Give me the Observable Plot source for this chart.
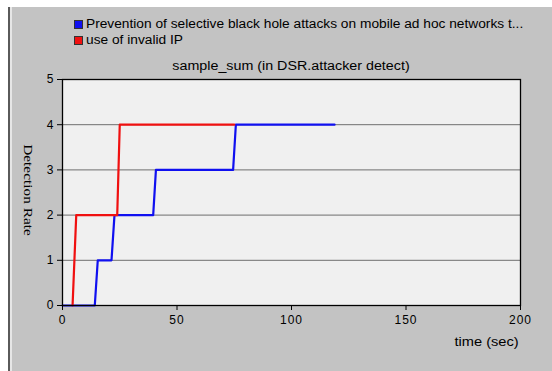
<!DOCTYPE html>
<html>
<head>
<meta charset="utf-8">
<script src="https://cdn.jsdelivr.net/npm/d3@7"></script>
<script src="https://cdn.jsdelivr.net/npm/@observablehq/plot@0.6"></script>
<style>
  html, body { margin: 0; padding: 0; background: #ffffff; }
  #wrap { position: relative; width: 552px; height: 371px; overflow: hidden; font-family: "Liberation Sans", Arial, sans-serif; }
  #panel { position: absolute; left: 8px; top: 7px; right: 0; bottom: 0; background: #c3c3c3;
           border-left: 2px solid #5a5a5a; box-shadow: inset 2px 0 0 #e6e6e6; }
  #chart { position: absolute; left: 0; top: 0; }
  .leg { position: absolute; font-size: 12px; color: #000; white-space: nowrap; line-height: 14px; transform: scaleX(1.144); transform-origin: 0 50%; }
  .sw { position: absolute; width: 7px; height: 7px; border: 1px solid #333; }
  #title { position: absolute; left: 62px; width: 458px; top: 59px; text-align: center; font-size: 12px; line-height: 14px; transform: scaleX(1.19); transform-origin: 50% 50%; }
  #ylab { position: absolute; left: 28px; top: 190px; transform: translate(-50%, -50%) rotate(90deg) scaleX(1.18); font-family: "Liberation Serif", "Times New Roman", serif; font-size: 13px; white-space: nowrap; }
  #xlab { position: absolute; right: 33px; top: 335px; font-size: 12px; line-height: 14px; transform: scaleX(1.22); transform-origin: 100% 50%; }
  #chart svg text { letter-spacing: 1px; }
</style>
</head>
<body>
<div id="wrap">
  <div id="panel"></div>
  <div id="chart"></div>
</div>
<script>
// Series names
const seriesNames = ["Prevention of selective black hole attacks on mobile ad hoc networks t...", "use of invalid IP"];
const seriesColors = ["#1010f0", "#f01010"];

// Blue series (Prevention ...)
const blueTime = [0, 14.1, 15.4, 21.4, 22.7, 39.6, 40.8, 74.5, 75.7, 118.8];
const blueRate = [0, 0, 1, 1, 2, 2, 3, 3, 4, 4];

// Red series (use of invalid IP)
const redTime = [4.4, 6.0, 23.9, 25.0, 75.0];
const redRate = [0, 2, 2, 4, 4];

// Axis ticks
const xTicks = [0, 50, 100, 150, 200];
const yTicks = [0, 1, 2, 3, 4, 5];
const yGrid = [1, 2, 3, 4];

const blue = blueTime.map((t, i) => ({time: t, rate: blueRate[i]}));
const red = redTime.map((t, i) => ({time: t, rate: redRate[i]}));

const chart = Plot.plot({
  width: 552,
  height: 371,
  marginLeft: 62,
  marginRight: 32,
  marginTop: 79,
  marginBottom: 66,
  style: {background: "transparent", fontFamily: "'Liberation Sans', Arial, sans-serif", fontSize: "12px", color: "#000"},
  x: {domain: [0, 200]},
  y: {domain: [0, 5]},
  marks: [
    Plot.frame({fill: "#f0f0f0", stroke: null}),
    Plot.gridY(yGrid, {stroke: "#6e6e6e", strokeOpacity: 1, strokeWidth: 1}),
    Plot.line(blue, {x: "time", y: "rate", stroke: seriesColors[0], strokeWidth: 2.2}),
    Plot.line(red, {x: "time", y: "rate", stroke: seriesColors[1], strokeWidth: 2.2}),
    Plot.frame({stroke: "#000", strokeWidth: 1.3}),
    Plot.axisX(xTicks, {tickSize: 5, tickPadding: 5, label: null, fontSize: 12}),
    Plot.axisY(yTicks, {tickSize: 5, tickPadding: 3, label: null, fontSize: 12})
  ]
});
document.getElementById("chart").appendChild(chart);

const wrap = document.getElementById("wrap");
const legTops = [17, 33];
seriesNames.forEach((name, i) => {
  const sw = document.createElement("div");
  sw.className = "sw";
  sw.style.left = "74px";
  sw.style.top = (legTops[i] + 3) + "px";
  sw.style.background = seriesColors[i];
  wrap.appendChild(sw);
  const t = document.createElement("div");
  t.className = "leg";
  t.style.left = "86px";
  t.style.top = legTops[i] + "px";
  t.textContent = name;
  wrap.appendChild(t);
});
const title = document.createElement("div");
title.id = "title";
title.textContent = "sample_sum (in DSR.attacker detect)";
wrap.appendChild(title);
const ylab = document.createElement("div");
ylab.id = "ylab";
ylab.textContent = "Detection Rate";
wrap.appendChild(ylab);
const xlab = document.createElement("div");
xlab.id = "xlab";
xlab.textContent = "time (sec)";
wrap.appendChild(xlab);
</script>
</body>
</html>
